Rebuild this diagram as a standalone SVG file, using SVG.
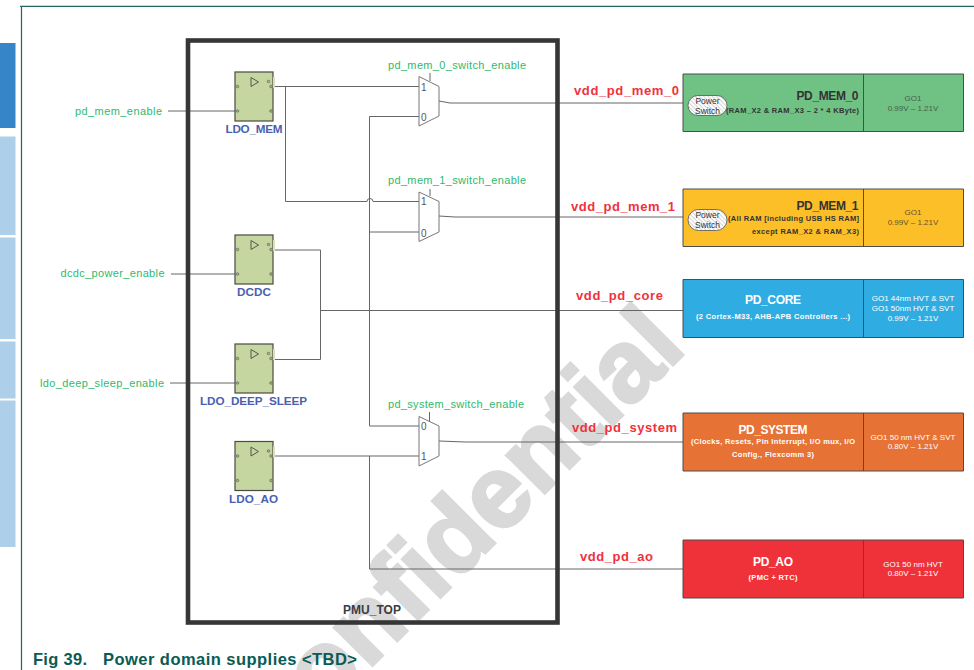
<svg xmlns="http://www.w3.org/2000/svg" width="974" height="670" viewBox="0 0 974 670">
<style>
text{font-family:"Liberation Sans",Arial,sans-serif}
.w{fill:none;stroke:#666;stroke-width:1}
.en{font-size:11px;fill:#2fb96e}
.vdd{font-size:13px;font-weight:bold;fill:#f0323c}
.ldo{font-size:11.700px;font-weight:bold;fill:#4a5fb0;text-anchor:middle}
.blk{fill:#c6d6a0;stroke:#4a4a42;stroke-width:1.2}
.pin{fill:#a9b58c;stroke:#66665c;stroke-width:.7}
.tri{fill:none;stroke:#55584e;stroke-width:1}
.mux{fill:#fff;stroke:#77777a;stroke-width:1}
.mn{font-size:10px;fill:#555}
.dom{stroke:#4d4d4d;stroke-width:1}
.h{font-size:12px;font-weight:bold;text-anchor:middle}
.s{font-size:7.500px;font-weight:bold;text-anchor:middle}
.v{font-size:8px;text-anchor:middle}
.ps{fill:url(#hatch);stroke:#555;stroke-width:.8}
.pt{font-size:8.500px;fill:#333;text-anchor:middle}
.tab{fill:#aecfea}
</style>
<defs>
<pattern id="hatch" width="3" height="3" patternUnits="userSpaceOnUse" patternTransform="rotate(-45)"><rect width="3" height="3" fill="#fff"/><rect width="1" height="3" fill="#d4d4d4"/></pattern>
<g id="reg">
<rect class="blk" x="0" y="0" width="38" height="49"/>
<path class="tri" d="M16 5.500L23.500 10L16 14.500Z"/>
<rect x="38" y="5" width="2" height="11" fill="#d5e2b8"/>
<circle class="pin" cx="2.500" cy="14.500" r="1.300"/><circle class="pin" cx="2.500" cy="39" r="1.300"/>
<circle class="pin" cx="33.500" cy="9.500" r="1.300"/><circle class="pin" cx="36" cy="14.500" r="1.300"/><circle class="pin" cx="36" cy="39" r="1.300"/>
</g>
</defs>
<rect width="974" height="670" fill="#fff"/>
<g id="sidebar">
<rect x="0" y="43" width="15.500" height="85" fill="#3585c8"/>
<rect class="tab" x="0" y="136.500" width="15.500" height="98.500"/>
<rect class="tab" x="0" y="237.500" width="15.500" height="101.500"/>
<rect class="tab" x="0" y="341.500" width="15.500" height="57"/>
<rect class="tab" x="0" y="400.500" width="15.500" height="146.500"/>
</g>
<path d="M20 6.400H974M21.500 6V670" fill="none" stroke="#1f6660" stroke-width="1.200"/>
<text id="watermark" transform="translate(688 350) rotate(-45)" text-anchor="end" font-size="102" font-weight="bold" fill="#d9d9d9" stroke="#d9d9d9" stroke-width="3">Confidential</text>
<g id="connectors">
<path class="w" d="M168 111H235M171 274H235M170 383H235"/>
<path class="w" d="M273 86.500H419M285.500 86.500V201.500H367M373 201.500H419M367 201.500A3 3 0 0 1 373 201.500"/>
<path class="w" d="M419 116.500H369.500V426H419M369.500 232H419"/>
<path class="w" d="M273 456H419M369.500 456V569H683"/>
<path class="w" d="M273 250H320.500V359.500H273M320.500 310.500H683"/>
<path class="w" d="M439 101L450 103H683M439 216L455 217H683M439 441L465 442H683"/>
<path class="w" d="M430 81V73M430 196V189M429.500 421V412"/>
</g>
<rect id="PMU_TOP" x="188" y="40.500" width="369.500" height="582" fill="none" stroke="#363636" stroke-width="4.600"/>
<text x="372" y="614" font-size="12" font-weight="bold" fill="#3c3c44" text-anchor="middle">PMU_TOP</text>
<g id="LDO_MEM"><use href="#reg" x="235" y="72"/><text class="ldo" x="254" y="133" textLength="57">LDO_MEM</text></g>
<g id="DCDC"><use href="#reg" x="235" y="235"/><text class="ldo" x="254" y="296">DCDC</text></g>
<g id="LDO_DEEP_SLEEP"><use href="#reg" x="235" y="344"/><text class="ldo" x="253.500" y="405" textLength="107">LDO_DEEP_SLEEP</text></g>
<g id="LDO_AO"><use href="#reg" x="235" y="441.500"/><text class="ldo" x="253.500" y="503" textLength="49">LDO_AO</text></g>
<text class="en" x="75" y="115" textLength="87">pd_mem_enable</text>
<text class="en" x="60.500" y="277" textLength="104">dcdc_power_enable</text>
<text class="en" x="40" y="387" textLength="124">ldo_deep_sleep_enable</text>
<text class="en" x="388" y="69" textLength="138">pd_mem_0_switch_enable</text>
<text class="en" x="388" y="184" textLength="138">pd_mem_1_switch_enable</text>
<text class="en" x="388" y="408" textLength="136">pd_system_switch_enable</text>
<g id="mux_mem_0"><path class="mux" d="M419 76.500L439 86.500V116L419 126Z"/><text class="mn" x="421" y="91">1</text><text class="mn" x="421" y="121">0</text></g>
<g id="mux_mem_1"><path class="mux" d="M419 192L439 201.500V232L419 241.500Z"/><text class="mn" x="421" y="205">1</text><text class="mn" x="421" y="237">0</text></g>
<g id="mux_system"><path class="mux" d="M419 416.500L439 426V456L419 466Z"/><text class="mn" x="421" y="430">0</text><text class="mn" x="421" y="460">1</text></g>
<text class="vdd" x="574" y="95" textLength="105">vdd_pd_mem_0</text>
<text class="vdd" x="571" y="211" textLength="104">vdd_pd_mem_1</text>
<text class="vdd" x="576" y="300" textLength="87">vdd_pd_core</text>
<text class="vdd" x="572" y="432" textLength="105">vdd_pd_system</text>
<text class="vdd" x="580" y="561" textLength="73">vdd_pd_ao</text>
<g id="PD_MEM_0">
<path class="dom" fill="#70c284" d="M683 74H963.500V131.500H683ZM863.500 74V131.500"/>
<rect class="ps" x="688" y="95.500" width="39" height="20" rx="10"/>
<text class="pt" x="707.500" y="103.500">Power</text><text class="pt" x="707.500" y="113.500">Switch</text>
<text class="h" x="827.500" y="100" fill="#333" textLength="62">PD_MEM_0</text>
<text class="s" x="792.500" y="113" fill="#333" textLength="133">(RAM_X2 &amp; RAM_X3 – 2 * 4 KByte)</text>
<text class="v" x="913" y="100.700" fill="#44604c">GO1</text><text class="v" x="913" y="110.700" fill="#44604c">0.99V – 1.21V</text>
</g>
<g id="PD_MEM_1">
<path class="dom" fill="#fdbf27" d="M683 189H963.500V246.500H683ZM863.500 189V246.500"/>
<rect class="ps" x="688" y="209.500" width="39" height="21" rx="10.500"/>
<text class="pt" x="707.500" y="218">Power</text><text class="pt" x="707.500" y="227.700">Switch</text>
<text class="h" x="827.500" y="210" fill="#333" textLength="62">PD_MEM_1</text>
<text class="s" x="793.500" y="221" fill="#333" textLength="131">(All RAM [including USB HS RAM]</text>
<text class="s" x="805.500" y="234" fill="#333" textLength="107">except RAM_X2 &amp; RAM_X3)</text>
<text class="v" x="913" y="215" fill="#5d5330">GO1</text><text class="v" x="913" y="224.700" fill="#5d5330">0.99V – 1.21V</text>
</g>
<g id="PD_CORE">
<path class="dom" fill="#2fade2" d="M683 279.500H963.500V337.500H683ZM863.500 279.500V337.500"/>
<text class="h" x="773" y="304" fill="#fff" textLength="56">PD_CORE</text>
<text class="s" x="773" y="319" fill="#fff" textLength="154">(2 Cortex-M33, AHB-APB Controllers ...)</text>
<text class="v" x="913" y="300.700" fill="#fff">GO1 44nm HVT &amp; SVT</text><text class="v" x="913" y="310.700" fill="#fff">GO1 50nm HVT &amp; SVT</text><text class="v" x="913" y="320.700" fill="#fff">0.99V – 1.21V</text>
</g>
<g id="PD_SYSTEM">
<path class="dom" fill="#e67235" d="M683 413H963.500V471H683ZM863.500 413V471"/>
<text class="h" x="773" y="434" fill="#fff" textLength="69">PD_SYSTEM</text>
<text class="s" x="773" y="444" fill="#fff" textLength="164">(Clocks, Resets, Pin Interrupt, I/O mux, I/O</text>
<text class="s" x="773" y="457" fill="#fff" textLength="82">Config., Flexcomm 3)</text>
<text class="v" x="913" y="440" fill="#fff">GO1 50 nm HVT &amp; SVT</text><text class="v" x="913" y="449.300" fill="#fff">0.80V – 1.21V</text>
</g>
<g id="PD_AO">
<path class="dom" fill="#ef3239" d="M683 540H963.500V598H683ZM863.500 540V598"/>
<text class="h" x="773" y="566" fill="#fff" textLength="40">PD_AO</text>
<text class="s" x="773" y="580" fill="#fff" textLength="49">(PMC + RTC)</text>
<text class="v" x="913" y="566.700" fill="#fff">GO1 50 nm HVT</text><text class="v" x="913" y="576" fill="#fff">0.80V – 1.21V</text>
</g>
<text x="33" y="665" font-size="16.500" font-weight="bold" fill="#0b5a55" textLength="54">Fig 39.</text>
<text x="103" y="665" font-size="16.500" font-weight="bold" fill="#0b5a55" textLength="254">Power domain supplies &lt;TBD&gt;</text>
</svg>
